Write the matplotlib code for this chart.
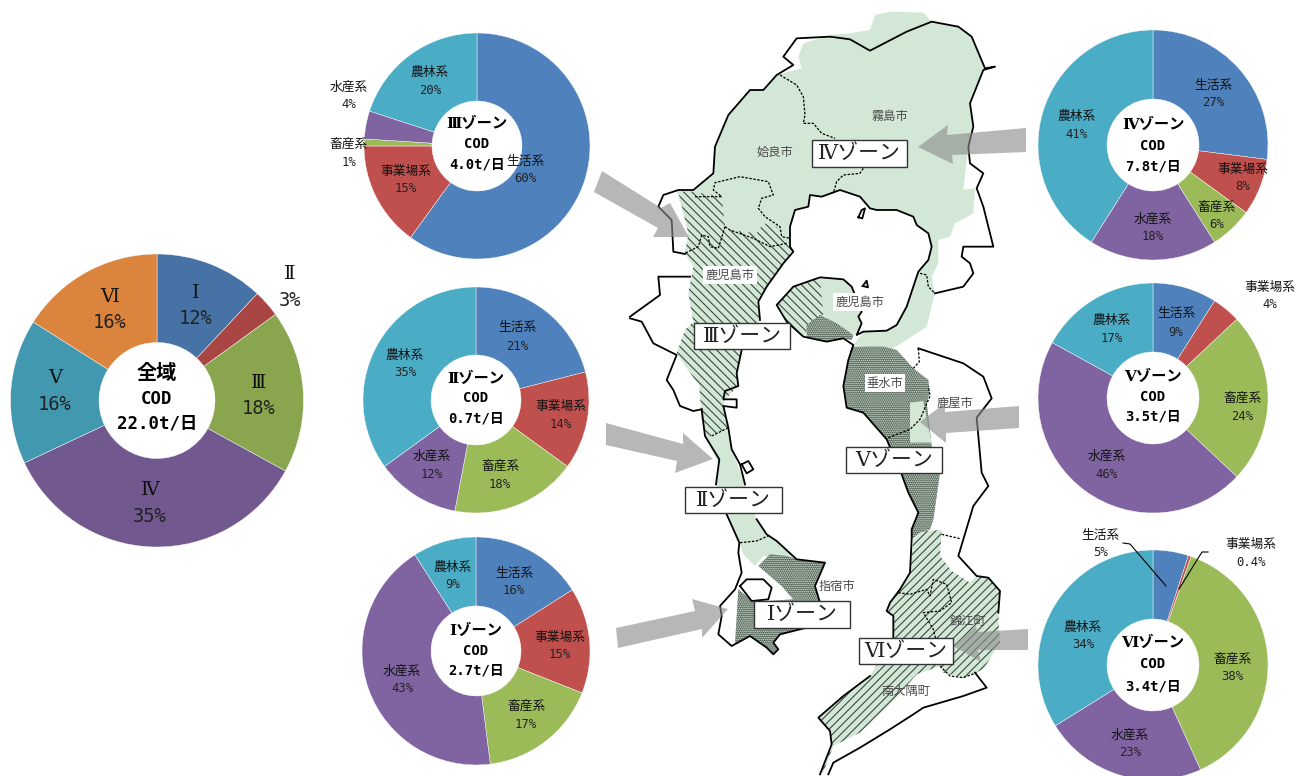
import matplotlib
matplotlib.use('Agg')
import matplotlib.pyplot as plt
from matplotlib.patches import Polygon, Rectangle

CJK = 'Noto Sans CJK JP'
plt.rcParams['font.family'] = [CJK, 'DejaVu Sans']
plt.rcParams['hatch.linewidth'] = 0.8

W, H = 1308, 776

# 負荷量の内訳（%）
sources = ['生活系', '事業場系', '畜産系', '水産系', '農林系']
zone3 = [60, 15, 1, 4, 20]
zone2 = [21, 14, 18, 12, 35]
zone1 = [16, 15, 17, 43, 9]
zone4 = [27, 8, 6, 18, 41]
zone5 = [9, 4, 24, 46, 17]
zone6 = [5, 0.4, 38, 23, 34]
zone_names = ['Ⅰ', 'Ⅱ', 'Ⅲ', 'Ⅳ', 'Ⅴ', 'Ⅵ']
all_zones = [12, 3, 18, 35, 16, 16]

colors = ['#4f81bd', '#c0504d', '#9bbb59', '#8064a2', '#4bacc6']
colors_all = ['#4672a6', '#a94644', '#89a54e', '#71588f', '#4298af', '#db843d']

fig = plt.figure(figsize=(W / 100, H / 100), dpi=100, facecolor='white')


def draw_pie(values, cols, cx, cy, r, hole):
    ax = fig.add_axes([(cx - r) / W, 1 - (cy + r) / H, 2 * r / W, 2 * r / H])
    ax.pie(values, colors=cols, startangle=90, counterclock=False, radius=1,
           wedgeprops=dict(width=1 - hole / r, edgecolor='white', linewidth=0.3))
    ax.set_xlim(-1, 1)
    ax.set_ylim(-1, 1)
    ax.axis('off')


draw_pie(all_zones, colors_all, 157, 400.5, 146.5, 58)
draw_pie(zone3, colors, 477, 146, 113, 45)
draw_pie(zone2, colors, 476, 400, 113, 45)
draw_pie(zone1, colors, 476, 651, 114, 45)
draw_pie(zone4, colors, 1153, 145, 115, 46)
draw_pie(zone5, colors, 1153, 398, 115, 46)
draw_pie(zone6, colors, 1153, 665, 115, 46)

# 地図と文字はピクセル座標の重ね軸に描く
ov = fig.add_axes([0, 0, 1, 1], zorder=5)
ov.set_xlim(0, W)
ov.set_ylim(H, 0)
ov.axis('off')
ov.patch.set_alpha(0)


def n(pts):
    # 北側の地図座標
    return [(630 + x / 3, y / 3) for x, y in pts]


def s(pts):
    # 南側の地図座標
    return [(630 + x / 3, 386 + y / 3) for x, y in pts]


GREEN = '#d2e7d6'
DOT = '#4f5f52'
HATCH = '#3c4a3f'

zone4_land = n([(190, 570), (250, 520), (255, 440), (295, 345), (360, 270), (400, 270), (440, 225), (515, 205),
                (505, 170), (520, 130), (600, 105), (660, 100), (720, 90), (735, 45), (780, 35), (880, 38), (905, 65),
                (985, 80), (1025, 110), (1065, 200), (1020, 310), (1030, 380), (1015, 440), (1000, 570), (1035, 565),
                (1030, 640), (975, 670), (960, 710), (925, 720), (925, 790), (905, 830), (915, 880), (890, 980),
                (830, 1020), (780, 1050), (670, 1035), (700, 995), (770, 992), (800, 975), (830, 920), (850, 860),
                (865, 815), (895, 780), (905, 740), (895, 700), (860, 675), (850, 650), (800, 630), (740, 630),
                (720, 625), (690, 590), (630, 570), (575, 590), (540, 585), (535, 620), (495, 630), (480, 680),
                (480, 740), (300, 690), (180, 710), (140, 570)])
sakura_green = n([(570, 835), (640, 838), (665, 860), (695, 935), (685, 950), (695, 970), (680, 1005), (640, 990),
                  (580, 945), (570, 900)])
sakura_hatch = n([(440, 915), (490, 860), (570, 835), (580, 945), (530, 990), (525, 1010), (470, 965)])
sakura_dot = n([(530, 975), (570, 945), (620, 970), (670, 1005), (665, 1020), (640, 1015), (590, 1025), (530, 1010)])
zone3_land = n([(145, 575), (190, 575), (275, 590), (285, 680), (300, 690), (380, 700), (400, 670), (440, 680),
                (470, 730), (490, 755), (460, 790), (410, 860), (385, 905), (390, 960), (335, 1050), (320, 1120),
                (325, 1158)]) + s([(285, 40), (280, 70), (295, 125), (245, 150), (225, 150), (215, 100), (208, 0)]) + \
    n([(140, 1060), (165, 990), (190, 965), (175, 880), (190, 800), (165, 760), (175, 700)])
zone2_land = s([(225, 150), (245, 150), (295, 125), (305, 190), (345, 295), (380, 400), (410, 445), (440, 465),
                (500, 520), (400, 510), (375, 540), (340, 505), (328, 470), (300, 400), (258, 295), (268, 240),
                (245, 190)])
zone1_land = s([(385, 540), (420, 505), (470, 510), (500, 520), (585, 530), (555, 600), (570, 650), (580, 700),
                (530, 725), (450, 745), (430, 770), (445, 790), (430, 805), (410, 785), (360, 750), (315, 775),
                (325, 610), (370, 648), (490, 640), (455, 600)])
zone5_land = n([(665, 1040), (760, 1040), (800, 1050), (850, 1105), (895, 1140)]) + \
    s([(898, 20), (890, 50), (905, 180), (930, 260), (910, 400), (900, 430), (870, 440), (845, 460), (845, 430),
       (865, 380), (835, 320), (815, 265), (770, 160), (700, 80), (650, 65), (640, 0)]) + n([(655, 1080)])
zone5_patch = s([(840, 50), (880, 45), (905, 170), (840, 170)])
zone6_land = s([(850, 460), (880, 435), (935, 432), (930, 510), (965, 555), (1020, 590), (1040, 570), (1075, 575),
                (1110, 615), (1105, 700), (1110, 770), (1060, 850), (1000, 875), (940, 860), (930, 840), (860, 865),
                (780, 955), (690, 1040), (610, 1080), (580, 1160), (570, 1160), (605, 1075), (600, 1035), (565, 995),
                (640, 930), (720, 870), (790, 755), (790, 690), (770, 675), (780, 650), (810, 610), (840, 560)])

ov.add_patch(Polygon(zone4_land, fc=GREEN, ec='none', zorder=1))
ov.add_patch(Polygon(sakura_green, fc=GREEN, ec='none', zorder=1))
ov.add_patch(Polygon(zone2_land, fc=GREEN, ec='none', zorder=1))
ov.add_patch(Polygon(zone3_land, fc=GREEN, ec=HATCH, hatch='\\' * 4, lw=0, zorder=2))
ov.add_patch(Polygon(sakura_hatch, fc=GREEN, ec=HATCH, hatch='\\' * 4, lw=0, zorder=2))
ov.add_patch(Polygon(zone6_land, fc=GREEN, ec=HATCH, hatch='/' * 4, lw=0, zorder=2))
for poly in (zone1_land, zone5_land, sakura_dot):
    ov.add_patch(Polygon(poly, fc=DOT, ec='#dfeee2', hatch='.' * 8, lw=0, zorder=2))
ov.add_patch(Polygon(zone5_patch, fc=GREEN, ec='none', zorder=2))

coast_lines = [
    n([(165, 762), (130, 755), (125, 660), (85, 620), (100, 585), (145, 570), (190, 570), (250, 520), (255, 440),
       (295, 345), (360, 270), (400, 270), (440, 225), (490, 195), (460, 170), (500, 115), (600, 110), (660, 118),
       (720, 152), (830, 95), (905, 65), (985, 80), (1025, 110), (1065, 205), (1095, 200), (1060, 210), (1020, 310),
       (1030, 380), (1015, 440), (1020, 490), (1060, 520), (1040, 565), (1060, 620), (1090, 740), (1000, 740),
       (995, 770), (1020, 790), (1030, 820), (1000, 860), (915, 880)]),
    n([(865, 1045), (1000, 1090), (1060, 1130), (1085, 1195)]) +
    s([(1040, 95), (1055, 260), (1075, 300), (1030, 360), (985, 510), (1040, 570), (1075, 575), (1110, 615),
       (1105, 680)]),
    s([(1035, 860), (1070, 905), (1000, 930), (880, 965), (850, 985), (780, 1030), (690, 1085), (610, 1130),
       (595, 1165)]),
    s([(570, 1165), (605, 1075), (600, 1035), (565, 995), (640, 930), (720, 870)]),
    s([(790, 755), (790, 690), (770, 675), (780, 650), (810, 610), (840, 560), (845, 460), (845, 430), (865, 380),
       (835, 320), (815, 265), (770, 160), (700, 80), (650, 65), (640, 0)]) +
    n([(655, 1080), (670, 1035), (640, 1015), (590, 1025), (520, 1010), (470, 965), (440, 915), (490, 860),
       (570, 832), (640, 838), (665, 860), (695, 935), (685, 950), (695, 970), (680, 1005), (700, 995), (770, 992),
       (800, 975), (830, 920), (850, 860), (865, 815), (895, 780), (905, 740), (895, 700), (860, 675), (850, 650),
       (800, 630), (740, 630), (720, 625), (690, 590), (630, 570), (575, 590), (540, 585), (535, 620), (495, 630),
       (480, 680), (480, 740), (490, 755), (460, 790), (410, 860), (385, 905), (390, 960)]),
    n([(335, 1050), (320, 1120), (325, 1158)]) +
    s([(285, 15), (280, 40), (320, 40), (320, 65), (280, 60), (295, 125), (305, 190), (330, 235), (345, 295)]),
    s([(290, 385), (328, 470), (325, 500), (335, 560), (315, 610), (270, 660), (275, 690), (265, 745), (305, 780),
       (360, 750), (410, 785), (430, 805), (445, 790), (430, 770), (450, 745), (530, 725)]),
    s([(380, 400), (410, 445), (440, 465), (500, 520), (585, 530), (555, 600), (570, 650)]),
    s([(215, 70), (225, 150), (268, 220), (258, 295)]),
    n([(0, 950), (90, 885), (85, 830), (180, 830)]),
    n([(0, 955), (35, 965), (70, 1030), (140, 1065), (110, 1140), (130, 1170)]) +
    s([(150, 60), (190, 75), (215, 70)]),
    n([(685, 652), (695, 630), (705, 625), (697, 655), (685, 652)]),
    n([(698, 858), (710, 842), (714, 862), (698, 858)]),
    s([(335, 235), (355, 225), (370, 250), (350, 262), (335, 235)]),
    s([(330, 600), (350, 580), (400, 580), (425, 605), (415, 640), (365, 645), (330, 600)]),
]
for line in coast_lines:
    ov.plot(*zip(*line), color='black', lw=1.3, zorder=3, solid_joinstyle='round')

border_lines = [
    n([(450, 225), (500, 255), (520, 290), (525, 345), (520, 370), (550, 370), (575, 400), (615, 415)]),
    n([(700, 505), (690, 520), (640, 525), (620, 545), (610, 580)]),
    n([(195, 590), (275, 590), (250, 570), (255, 548), (330, 530), (415, 545), (430, 585), (395, 595), (385, 625),
       (405, 650), (450, 680), (455, 710), (480, 715)]),
    n([(285, 680), (300, 690), (370, 715), (420, 740), (470, 730)]),
    n([(285, 680), (265, 745), (240, 740), (235, 710), (215, 705), (205, 740), (165, 760)]),
    n([(870, 820), (890, 825), (895, 860), (915, 880)]),
    n([(865, 1045), (868, 1085), (850, 1105)]),
    s([(245, 150), (295, 125)]),
    s([(330, 470), (380, 465), (420, 447)]),
    s([(775, 155), (840, 130), (870, 100), (900, 30), (895, 0)]),
    s([(935, 445), (990, 458)]),
    s([(805, 620), (840, 625), (890, 610), (900, 630), (910, 580), (950, 595), (965, 650), (930, 675), (880, 680),
       (910, 730), (925, 790)]),
    s([(930, 840), (960, 870), (1000, 875), (1040, 860)]),
]
for line in border_lines:
    ov.plot(*zip(*line), color='black', lw=0.9, ls=(0, (2, 1.2)), zorder=3)

# 矢印
arrows = [
    [(602, 171), (661, 208), (670, 203), (689, 237), (653, 237), (658, 228), (594, 192)],
    [(918, 147), (948, 125), (947, 135), (1026, 128), (1026, 152), (952, 155), (953, 164)],
    [(606, 423), (683, 444), (683, 433), (713, 459), (675, 473), (677, 461), (606, 445)],
    [(728, 609), (692, 599), (695, 611), (616, 628), (618, 648), (702, 629), (702, 638)],
    [(1019, 406), (945, 412), (945, 403), (920, 422), (946, 443), (946, 433), (1019, 428)],
    [(1028, 629), (1028, 650), (978, 650), (981, 662), (953, 646), (976, 626), (977, 632)],
]
for arrow in arrows:
    ov.add_patch(Polygon(arrow, fc='#8c8c8c', ec='none', alpha=0.62, zorder=4))

# 市町名
city_labels = [('霧島市', 890, 116, None), ('姶良市', 775, 152, None), ('鹿児島市', 730, 275, 'white'),
               ('鹿児島市', 860, 302, 'white'), ('垂水市', 885, 383, 'white'), ('鹿屋市', 955, 403, None),
               ('指宿市', 837, 586, None), ('錦江町', 968, 621, None), ('南大隅町', 906, 691, None)]
for name, x, y, bg in city_labels:
    bbox = dict(fc=bg, ec='none', pad=1.5) if bg else None
    ov.text(x, y, name, fontsize=8.8, color='#4a4a4a', ha='center', va='center', zorder=5, bbox=bbox)

# 文字の組み合わせ
SERIF = ['DejaVu Serif', CJK]
MONO = ['DejaVu Sans Mono', CJK]

# ゾーン名の枠
zone_boxes = [('Ⅳゾーン', 812, 140, 907, 167), ('Ⅲゾーン', 694, 323, 790, 349), ('Ⅱゾーン', 685, 487, 782, 513),
              ('Ⅴゾーン', 846, 447, 942, 473), ('Ⅰゾーン', 754, 601, 850, 628), ('Ⅵゾーン', 859, 638, 953, 664)]
for label, x0, y0, x1, y1 in zone_boxes:
    ov.add_patch(Rectangle((x0, y0), x1 - x0, y1 - y0, fc='white', ec='#333333', lw=1.0, zorder=6))
    ov.text((x0 + x1) / 2, (y0 + y1) / 2, label, fontsize=15, color='#222222',
            family=SERIF, ha='center', va='center', zorder=7)

# 円グラフの文字
pie_label_pos = {
    'III': [(525, 161), (406, 171), (349, 144), (349, 87), (430, 72)],
    'II': [(517, 328), (561, 406), (500, 466), (432, 456), (405, 355)],
    'I': [(514, 573), (560, 637), (526, 706), (402, 671), (453, 567)],
    'IV': [(1213, 85), (1243, 169), (1217, 207), (1153, 219), (1077, 116)],
    'V': [(1176, 314), (1270, 287), (1242, 398), (1107, 456), (1112, 320)],
    'VI': [(1100, 535), (1251, 544), (1232, 659), (1130, 735), (1083, 627)],
}
pie_sets = [('III', zone3), ('II', zone2), ('I', zone1), ('IV', zone4), ('V', zone5), ('VI', zone6)]
for key, vals in pie_sets:
    for src, val, (x, y) in zip(sources, vals, pie_label_pos[key]):
        ov.text(x, y, src, fontsize=9.2, color='#111111', ha='center', va='center', zorder=8)
        ov.text(x, y + 18, f'{val}%', fontsize=8.8, family=MONO, color='#222222', ha='center', va='center',
                zorder=8)

all_label_pos = [(196, 293), (290, 274), (259, 383), (150, 490), (55, 378), (110, 297)]
for name, val, (x, y) in zip(zone_names, all_zones, all_label_pos):
    ov.text(x, y, name, fontsize=14, family=SERIF, color='#111111', ha='center', va='center', zorder=8)
    ov.text(x, y + 26, f'{val}%', fontsize=13.5, family=MONO, color='#222222', ha='center', va='center', zorder=8)

center_text = [
    (157, 373, 25.5, '全域', '22.0t/日', 14.5, 12.5),
    (477, 124, 20.5, 'Ⅲゾーン', '4.0t/日', 11, 10),
    (476, 379, 19.5, 'Ⅱゾーン', '0.7t/日', 11, 10),
    (476, 631, 20, 'Ⅰゾーン', '2.7t/日', 11, 10),
    (1153, 125, 20.5, 'Ⅳゾーン', '7.8t/日', 11, 10),
    (1153, 377, 20, 'Ⅴゾーン', '3.5t/日', 11, 10),
    (1153, 643, 21.5, 'Ⅵゾーン', '3.4t/日', 11, 10),
]
for x, y, step, top, load, top_size, mono_size in center_text:
    ov.text(x, y, top, fontsize=top_size, fontweight='bold', family=SERIF, color='black',
            ha='center', va='center', zorder=8)
    ov.text(x, y + step, 'COD', fontsize=mono_size, fontweight='bold', family=MONO, color='black',
            ha='center', va='center', zorder=8)
    ov.text(x, y + 2 * step, load, fontsize=mono_size, fontweight='bold', family=MONO, color='black',
            ha='center', va='center', zorder=8)

# 小さい割合の引き出し線
ov.plot([1123, 1130, 1166], [543, 544, 586], color='black', lw=0.8, zorder=8)
ov.plot([1208, 1202, 1179], [552, 552, 589], color='black', lw=0.8, zorder=8)

fig.savefig('out.png', dpi=100, facecolor='white')
